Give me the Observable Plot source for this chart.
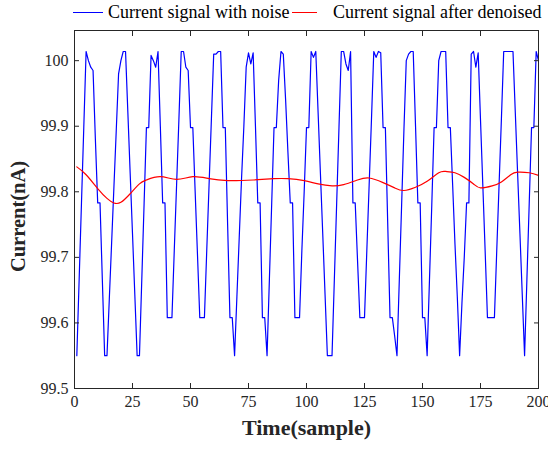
<!DOCTYPE html>
<html>
<head>
<meta charset="utf-8">
<script src="https://cdn.jsdelivr.net/npm/d3@7"></script>
<script src="https://cdn.jsdelivr.net/npm/@observablehq/plot@0.6"></script>
<style>
  html, body { margin: 0; padding: 0; background: #fff; }
  #wrap { position: relative; width: 548px; height: 451px; font-family: "Liberation Serif", "Times New Roman", serif; }
  #legend { position: absolute; left: 0; top: 0; width: 548px; height: 26px; font-size: 18px; color: #000; }
  #legend .sw { position: absolute; top: 12px; height: 0; border-top: 1.3px solid; }
  #legend .lab { position: absolute; top: 1px; white-space: nowrap; line-height: 22px; }
  svg { display: block; }
</style>
</head>
<body>
<div id="wrap"><div id="legend"></div></div>
<script>
const seriesNames = ["Current signal with noise", "Current signal after denoised"];
const seriesColors = ["#0000ff", "#ff0000"];

// Noisy signal, samples 1..200
const noisy = [
  99.55, 99.666, 99.782, 99.898, 100.014, 100.0, 99.99, 99.985, 99.88, 99.783,
  99.783, 99.666, 99.55, 99.55, 99.636, 99.722, 99.808, 99.894, 99.98, 100.0,
  100.014, 100.014, 99.921, 99.828, 99.736, 99.643, 99.55, 99.55, 99.666, 99.782,
  99.898, 99.898, 100.008, 100.0, 99.99, 100.014, 99.9, 99.783, 99.783, 99.608,
  99.608, 99.608, 99.71, 99.81, 99.91, 100.014, 100.014, 99.99, 99.985, 99.898,
  99.898, 99.801, 99.705, 99.608, 99.608, 99.608, 99.71, 99.81, 99.91, 100.01,
  100.01, 100.014, 100.014, 99.898, 99.898, 99.75, 99.608, 99.608, 99.55, 99.64,
  99.73, 99.82, 99.9, 99.99, 100.012, 99.995, 100.012, 99.9, 99.783, 99.783,
  99.608, 99.608, 99.55, 99.666, 99.782, 99.898, 99.898, 99.97, 100.014, 100.01,
  99.94, 99.86, 99.783, 99.783, 99.608, 99.608, 99.608, 99.71, 99.8, 99.898,
  99.898, 100.014, 100.005, 100.014, 99.921, 99.828, 99.736, 99.643, 99.55, 99.55,
  99.55, 99.666, 99.782, 99.898, 100.014, 100.014, 99.995, 99.985, 100.014, 99.783,
  99.783, 99.695, 99.608, 99.608, 99.608, 99.71, 99.81, 99.91, 100.014, 100.005,
  100.014, 100.012, 99.898, 99.898, 99.753, 99.608, 99.608, 99.58, 99.55, 99.665,
  99.78, 99.895, 100.0, 100.01, 100.014, 100.014, 99.9, 99.783, 99.783, 99.608,
  99.608, 99.55, 99.665, 99.78, 99.898, 99.898, 100.0, 100.014, 100.014, 100.014,
  99.898, 99.898, 99.81, 99.72, 99.64, 99.55, 99.63, 99.7, 99.783, 99.783,
  100.01, 100.014, 99.99, 100.012, 99.91, 99.81, 99.71, 99.608, 99.608, 99.608,
  99.608, 99.71, 99.81, 99.91, 100.014, 100.014, 100.014, 100.014, 100.014, 99.921,
  99.828, 99.736, 99.643, 99.55, 99.666, 99.782, 99.898, 99.898, 100.014, 100.0
];

// Denoised signal, read at sample positions
const denoisedSample = [1, 5, 10, 14, 17, 20, 24, 28, 31, 37, 44, 51, 58, 66, 77, 86, 92, 99, 105, 111,
  116, 122, 127, 133, 138, 142, 147, 152, 157, 160, 164, 168, 172, 175, 180, 184, 188, 191, 196, 200];
const denoisedValue = [99.838, 99.826, 99.805, 99.79, 99.783, 99.784, 99.797, 99.812, 99.818, 99.823,
  99.819, 99.823, 99.820, 99.817, 99.818, 99.820, 99.820, 99.817, 99.812, 99.809,
  99.811, 99.818, 99.821, 99.814, 99.806, 99.802, 99.807, 99.816, 99.829, 99.831,
  99.829, 99.822, 99.812, 99.806, 99.809, 99.815, 99.826, 99.830, 99.829, 99.825];

const xTicks = [0, 25, 50, 75, 100, 125, 150, 175, 200];
const yTicks = [99.5, 99.6, 99.7, 99.8, 99.9, 100];
const yTickLabels = ["99.5", "99.6", "99.7", "99.8", "99.9", "100"];
const xLabel = "Time(sample)";
const yLabel = "Current(nA)";

const noisyData = noisy.map((v, i) => ({x: i + 1, y: v}));
const denoisedData = denoisedSample.map((x, i) => ({x, y: denoisedValue[i]}));

const axisColor = "#262626";
const tickFont = {fontSize: 16, fill: axisColor};

const chart = Plot.plot({
  width: 548,
  height: 451,
  marginLeft: 74,
  marginRight: 10,
  marginTop: 30,
  marginBottom: 63,
  style: {fontFamily: "'Liberation Serif', 'Times New Roman', serif", fontSize: "16px", color: axisColor, background: "#fff"},
  x: {domain: [0, 200]},
  y: {domain: [99.5, 100.046]},
  marks: [
    Plot.line(noisyData, {x: "x", y: "y", stroke: seriesColors[0], strokeWidth: 1.2}),
    Plot.line(denoisedData, {x: "x", y: "y", stroke: seriesColors[1], strokeWidth: 1.2, curve: "natural"}),
    Plot.frame({stroke: axisColor, strokeWidth: 1}),
    Plot.axisX({anchor: "bottom", ticks: xTicks, tickSize: -5, tickPadding: 12, tickFormat: d => String(d), label: null, stroke: axisColor, ...tickFont}),
    Plot.axisX({anchor: "top", ticks: xTicks, tickSize: -5, tickFormat: null, label: null, text: null, stroke: axisColor}),
    Plot.axisY({anchor: "left", ticks: yTicks, tickSize: -5, tickPadding: 11, tickFormat: d => yTickLabels[yTicks.indexOf(d)], label: null, stroke: axisColor, ...tickFont}),
    Plot.axisY({anchor: "right", ticks: yTicks, tickSize: -5, tickFormat: null, label: null, text: null, stroke: axisColor}),
    Plot.text([xLabel], {frameAnchor: "bottom", dy: 46, text: d => d, fontSize: 22, fontWeight: "bold", fill: axisColor}),
    Plot.text([yLabel], {frameAnchor: "left", textAnchor: "middle", dx: -56, dy: 7, rotate: -90, text: d => d, fontSize: 20.5, fontWeight: "bold", fill: axisColor})
  ]
});

document.getElementById("wrap").appendChild(chart);

const legend = document.getElementById("legend");
const swatchLeft = [73, 292];
const swatchWidth = [30, 25];
const labelLeft = [108, 333];
seriesNames.forEach((name, i) => {
  const sw = document.createElement("span");
  sw.className = "sw";
  sw.style.left = swatchLeft[i] + "px";
  sw.style.width = swatchWidth[i] + "px";
  sw.style.borderTopColor = seriesColors[i];
  legend.appendChild(sw);
  const lab = document.createElement("span");
  lab.className = "lab";
  lab.style.left = labelLeft[i] + "px";
  lab.textContent = name;
  legend.appendChild(lab);
});
</script>
</body>
</html>
